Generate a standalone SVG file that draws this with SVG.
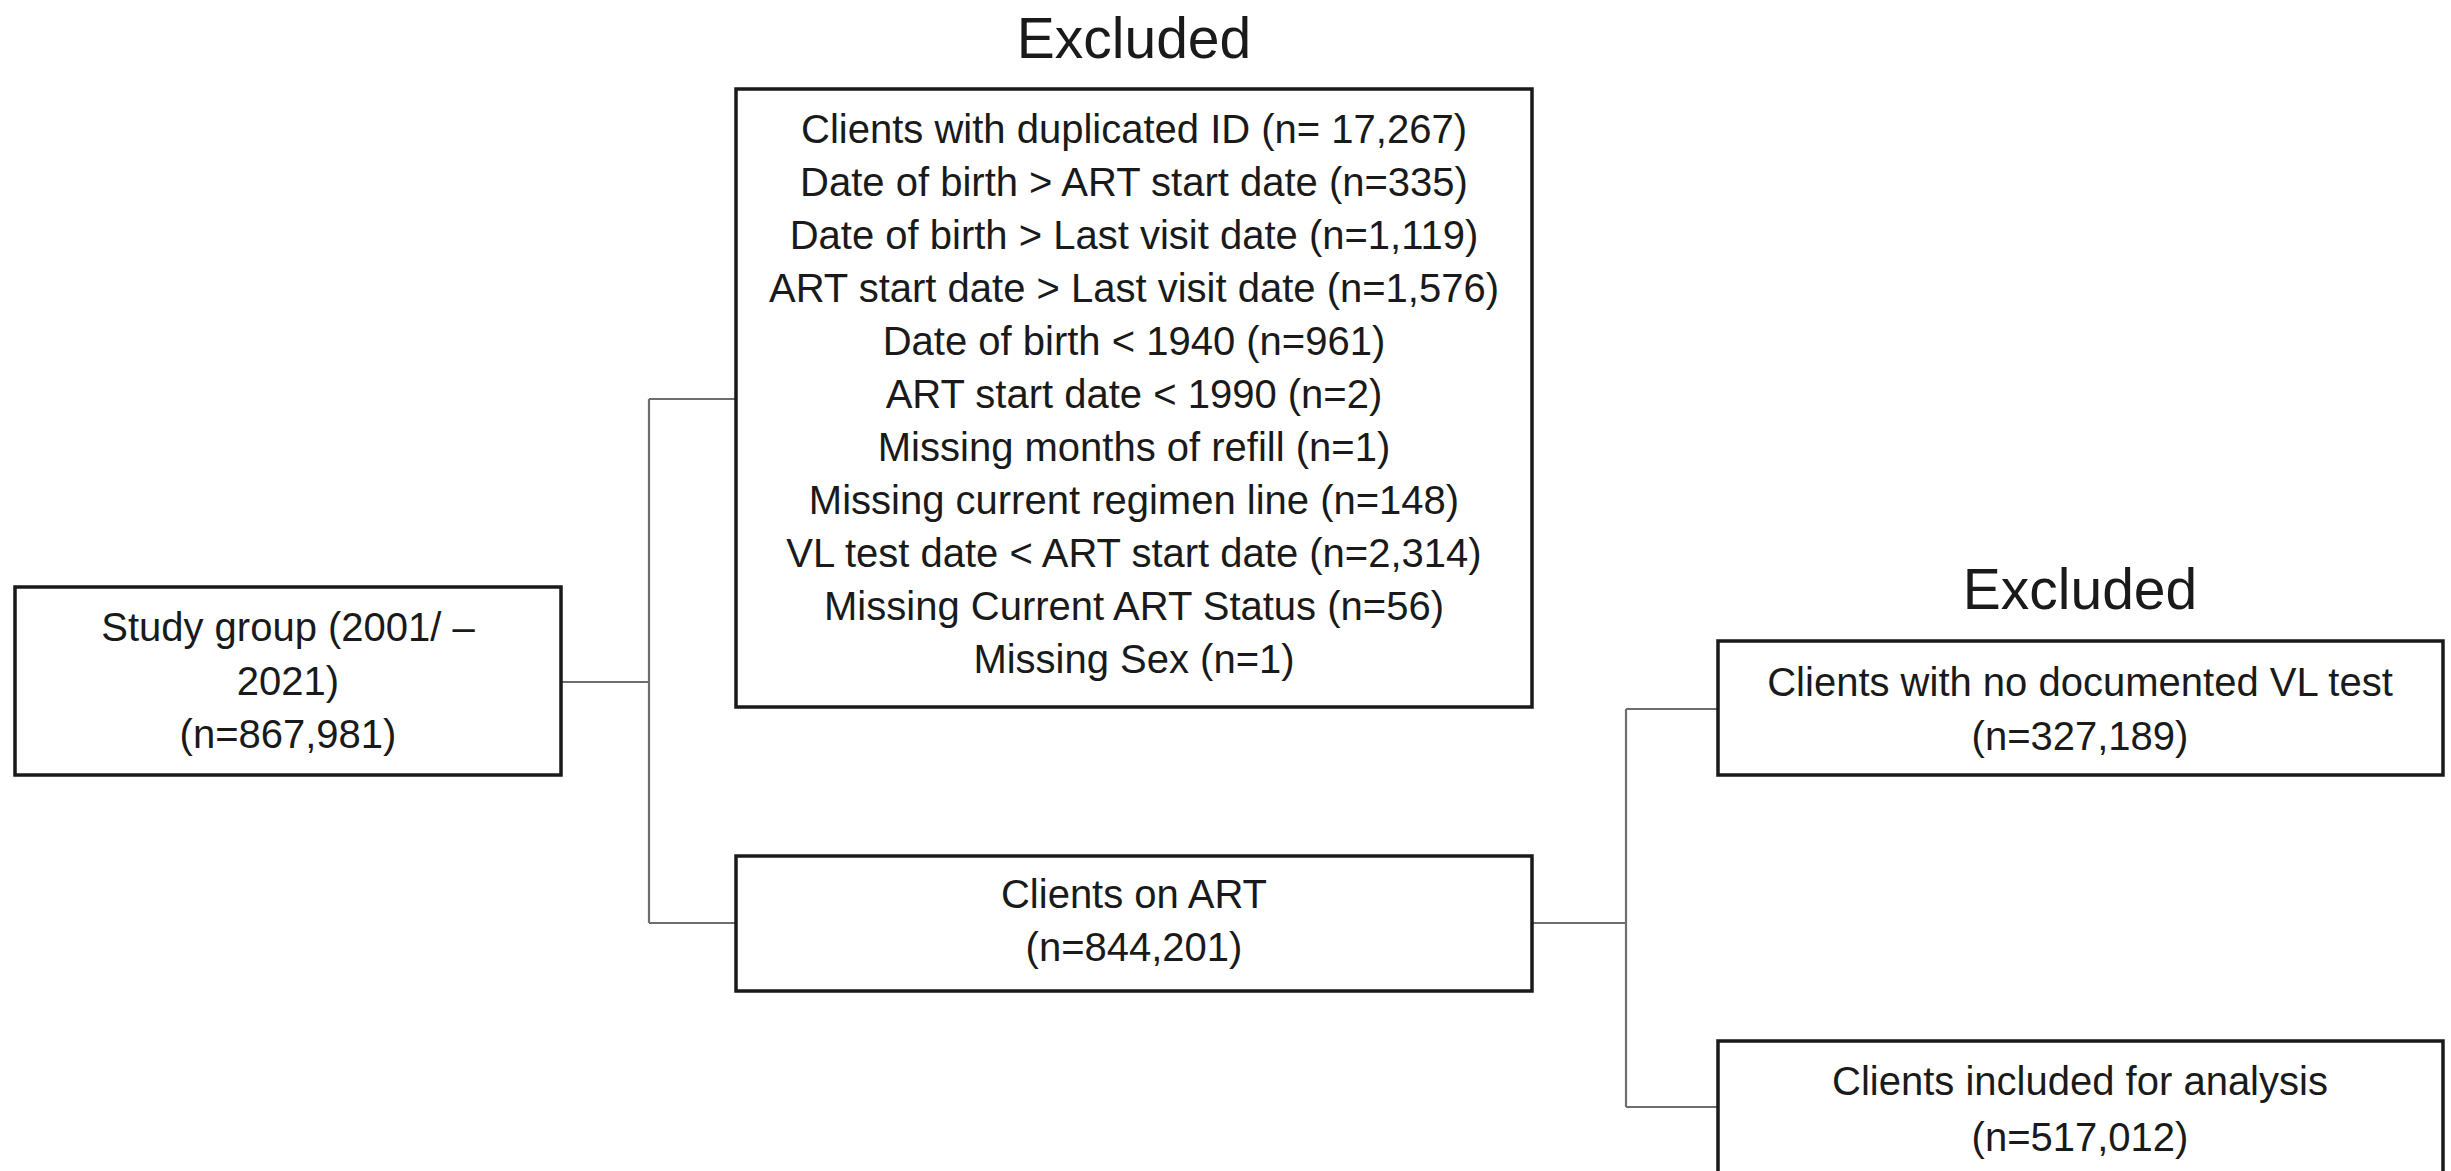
<svg xmlns="http://www.w3.org/2000/svg" width="2451" height="1171" viewBox="0 0 2451 1171">
<style>
.box{fill:#ffffff;stroke:#1a1a1a;stroke-width:3.5}
.t{font-family:"Liberation Sans",Arial,sans-serif;font-size:40px;fill:#1a1a1a;text-anchor:middle}
.h{font-family:"Liberation Sans",Arial,sans-serif;font-size:57px;fill:#1a1a1a;text-anchor:middle}
.c{fill:none;stroke:#6e6e6e;stroke-width:2.2}
</style>
<rect width="2451" height="1171" fill="#ffffff"/>
<g id="connectors">
<path class="c" d="M561 682 H649 M649 399 V923 M649 399 H736 M649 923 H736"/>
<path class="c" d="M1532 923 H1626 M1626 709 V1107 M1626 709 H1718 M1626 1107 H1718"/>
</g>
<g id="title1"><text class="h" x="1134" y="58">Excluded</text></g>
<g id="title2"><text class="h" x="2080" y="609">Excluded</text></g>
<g id="study">
<rect class="box" x="15" y="587" width="546" height="188"/>
<text class="t" x="288" y="641">Study group (2001/ –</text>
<text class="t" x="288" y="695">2021)</text>
<text class="t" x="288" y="748">(n=867,981)</text>
</g>
<g id="excluded1">
<rect class="box" x="736" y="89" width="796" height="618"/>
<text class="t" x="1134" y="143">Clients with duplicated ID (n= 17,267)</text>
<text class="t" x="1134" y="196">Date of birth &gt; ART start date (n=335)</text>
<text class="t" x="1134" y="249">Date of birth &gt; Last visit date (n=1,119)</text>
<text class="t" x="1134" y="302">ART start date &gt; Last visit date (n=1,576)</text>
<text class="t" x="1134" y="355">Date of birth &lt; 1940 (n=961)</text>
<text class="t" x="1134" y="408">ART start date &lt; 1990 (n=2)</text>
<text class="t" x="1134" y="461">Missing months of refill (n=1)</text>
<text class="t" x="1134" y="514">Missing current regimen line (n=148)</text>
<text class="t" x="1134" y="567">VL test date &lt; ART start date (n=2,314)</text>
<text class="t" x="1134" y="620">Missing Current ART Status (n=56)</text>
<text class="t" x="1134" y="673">Missing Sex (n=1)</text>
</g>
<g id="onart">
<rect class="box" x="736" y="856" width="796" height="135"/>
<text class="t" x="1134" y="908">Clients on ART</text>
<text class="t" x="1134" y="961">(n=844,201)</text>
</g>
<g id="excluded2">
<rect class="box" x="1718" y="641" width="725" height="134"/>
<text class="t" x="2080" y="696">Clients with no documented VL test</text>
<text class="t" x="2080" y="750">(n=327,189)</text>
</g>
<g id="included">
<rect class="box" x="1718" y="1041" width="725" height="160"/>
<text class="t" x="2080" y="1095">Clients included for analysis</text>
<text class="t" x="2080" y="1151">(n=517,012)</text>
</g>
</svg>
